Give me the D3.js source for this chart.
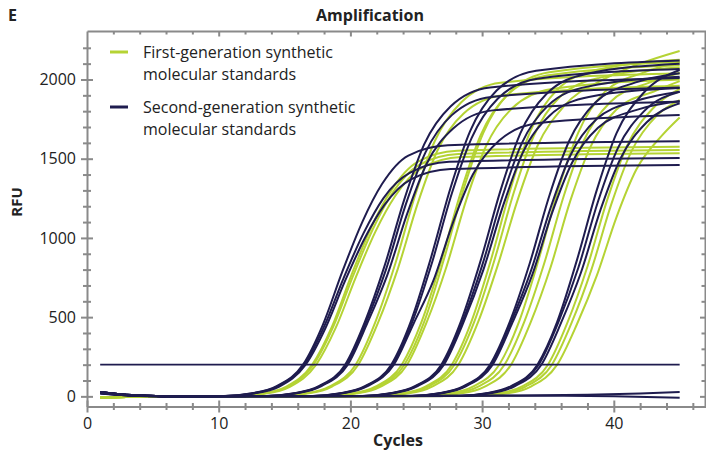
<!DOCTYPE html>
<html>
<head>
<meta charset="utf-8">
<script src="https://cdn.jsdelivr.net/npm/d3@7"></script>
<style>
  body { margin: 0; background: #fff; }
  svg { display: block; font-family: "Open Sans", "Noto Sans", sans-serif; }
</style>
</head>
<body>
<svg id="chart" width="706" height="451"></svg>
<script>
// ============================================
// Data (cycle, RFU) knots
// ============================================

const cycleTicks = [0, 10, 20, 30, 40];
const cycleMinor = [2, 4, 6, 8, 12, 14, 16, 18, 22, 24, 26, 28, 32, 34, 36, 38, 42, 44, 46];
const rfuTicks = [0, 500, 1000, 1500, 2000];
const rfuMinor = [100, 200, 300, 400, 600, 700, 800, 900, 1100, 1200, 1300, 1400,
  1600, 1700, 1800, 1900, 2100, 2200];

const thresholdRfu = 200;
const thresholdCycles = [1, 45];

// dilution 1 (earliest, lower plateau)
const g1Second = [
  [[1,28],[3,10],[6,1],[10.4,3],[12.4,18],[14.4,65],[16.4,200],[17.9,450],[19.4,790],[20.9,1100],[22.4,1340],[24.4,1520],[27.4,1585],[45,1610]],
  [[1,25],[3,9],[6,1],[10.5,3],[12.5,18],[14.5,65],[16.5,200],[18,440],[19.5,750],[21,1030],[22.5,1250],[24.5,1410],[27.5,1480],[45,1505]],
  [[1,20],[3,7],[6,0],[10.6,3],[12.6,17],[14.6,62],[16.6,200],[18.1,430],[19.6,730],[21.1,1000],[22.6,1210],[24.6,1370],[27.6,1435],[45,1460]]
];
const g1First = [
  [[1,-8],[3,-4],[6,0],[11.1,2],[13.1,15],[15.1,60],[17.1,200],[18.6,440],[20.1,770],[21.6,1070],[23.1,1300],[25.1,1480],[28.1,1550],[45,1575]],
  [[1,-6],[3,-3],[6,0],[11.2,2],[13.2,15],[15.2,60],[17.2,200],[18.7,440],[20.2,760],[21.7,1055],[23.2,1285],[25.2,1460],[28.2,1530],[45,1555]],
  [[1,-9],[3,-4],[6,0],[11.4,2],[13.4,15],[15.4,60],[17.4,200],[18.9,435],[20.4,750],[21.9,1040],[23.4,1265],[25.4,1440],[28.4,1510],[45,1535]]
];

// dilution 2
const g2Second = [
  [[1,28],[3,10],[6,1],[13.6,3],[15.6,18],[17.6,65],[19.6,200],[21.1,470],[22.6,825],[24.1,1245],[25.6,1590],[27.6,1830],[30.6,1950],[45,2010]],
  [[1,24],[3,8],[6,1],[13.7,3],[15.7,18],[17.7,65],[19.7,200],[21.2,470],[22.7,800],[24.2,1210],[25.7,1540],[27.7,1775],[30.7,1890],[45,1950]],
  [[1,18],[3,6],[6,0],[13.8,3],[15.8,18],[17.8,65],[19.8,200],[21.3,465],[22.8,765],[24.3,1150],[25.8,1470],[27.8,1690],[30.8,1805],[45,1860]]
];
const g2First = [
  [[1,-8],[3,-4],[6,0],[14.4,2],[16.4,16],[18.4,62],[20.4,200],[21.9,470],[23.4,835],[24.9,1265],[26.4,1610],[28.4,1855],[31.4,1980],[45,2040]],
  [[1,-5],[3,-2],[6,0],[14.6,2],[16.6,16],[18.6,62],[20.6,200],[22.1,465],[23.6,805],[25.1,1215],[26.6,1550],[28.6,1785],[31.6,1900],[45,1960]]
];

// dilution 3
const g3Second = [
  [[1,28],[3,10],[6,1],[17.1,3],[19.1,18],[21.1,65],[23.1,200],[24.6,475],[26.1,870],[27.6,1315],[29.1,1675],[31.1,1930],[34.1,2055],[45,2120]],
  [[1,22],[3,8],[6,1],[17.2,3],[19.2,18],[21.2,65],[23.2,200],[24.7,470],[26.2,845],[27.7,1280],[29.2,1630],[31.2,1880],[34.2,2005],[45,2066]],
  [[1,26],[3,9],[6,1],[17.3,3],[19.3,18],[21.3,65],[23.3,200],[24.8,460],[26.3,730],[27.8,1100],[29.3,1400],[31.3,1615],[34.3,1725],[45,1776]]
];
const g3First = [
  [[1,-8],[3,-4],[6,0],[17.9,2],[19.9,16],[21.9,62],[23.9,200],[25.4,470],[26.9,855],[28.4,1295],[29.9,1650],[31.9,1900],[34.9,2025],[45,2090]],
  [[1,-6],[3,-3],[6,0],[18.1,2],[20.1,16],[22.1,62],[24.1,200],[25.6,470],[27.1,865],[28.6,1310],[30.1,1665],[32.1,1920],[35.1,2045],[45,2110]],
  [[1,-9],[3,-4],[6,0],[18.3,2],[20.3,16],[22.3,62],[24.3,200],[25.8,470],[27.3,820],[28.8,1240],[30.3,1580],[32.3,1820],[35.3,1940],[45,2000]]
];

// dilution 4
const g4Second = [
  [[1,28],[3,10],[6,1],[20.9,3],[22.9,18],[24.9,65],[26.9,200],[28.4,475],[29.9,860],[31.4,1300],[32.9,1660],[34.9,1910],[37.9,2035],[45,2100]],
  [[1,20],[3,7],[6,0],[21,3],[23,18],[25,65],[27,200],[28.5,470],[30,825],[31.5,1250],[33,1595],[35,1835],[38,1955],[45,2017]],
  [[1,27],[3,9],[6,1],[21.1,3],[23.1,18],[25.1,65],[27.1,200],[28.6,470],[30.1,800],[31.6,1205],[33.1,1540],[35.1,1770],[38.1,1890],[45,1946]]
];
const g4First = [
  [[1,-7],[3,-3],[6,0],[21.7,2],[23.7,16],[25.7,62],[27.7,200],[29.2,475],[30.7,870],[32.2,1320],[33.7,1680],[35.7,1935],[38.7,2060],[45,2125]],
  [[1,-8],[3,-4],[6,0],[21.9,2],[23.9,16],[25.9,62],[27.9,200],[29.4,470],[30.9,850],[32.4,1285],[33.9,1640],[35.9,1890],[38.9,2010],[45,2075]],
  [[1,-6],[3,-3],[6,0],[22.2,2],[24.2,16],[26.2,62],[28.2,200],[29.7,470],[31.2,830],[32.7,1240],[34.2,1580],[36.2,1830],[39.2,2000],[42,2100],[45,2180]]
];

// dilution 5
const g5Second = [
  [[1,28],[3,10],[6,1],[24.6,3],[26.6,18],[28.6,65],[30.6,200],[32.1,470],[33.6,835],[35.1,1265],[36.6,1610],[38.6,1855],[41.6,1980],[45,2040]],
  [[1,23],[3,8],[6,1],[24.7,3],[26.7,18],[28.7,65],[30.7,200],[32.2,470],[33.7,790],[35.2,1190],[36.7,1520],[38.7,1750],[41.7,1865],[45,1923]],
  [[1,26],[3,9],[6,1],[24.8,3],[26.8,18],[28.8,65],[30.8,200],[32.3,465],[33.8,765],[35.3,1155],[36.8,1470],[38.8,1695],[41.8,1810],[45,1864]]
];
const g5First = [
  [[1,-8],[3,-4],[6,0],[25.3,2],[27.3,16],[29.3,62],[31.3,200],[32.8,470],[34.3,865],[35.8,1310],[37.3,1665],[39.3,1920],[42.3,2045],[45,2110]],
  [[1,-7],[3,-3],[6,0],[25.7,2],[27.7,16],[29.7,62],[31.7,200],[33.2,470],[34.7,835],[36.2,1265],[37.7,1610],[39.7,1855],[42.7,1980],[45,2040]],
  [[1,-9],[3,-4],[6,0],[26.2,2],[28.2,16],[30.2,62],[32.2,200],[33.7,470],[35.2,815],[36.7,1235],[38.2,1570],[40.2,1810],[43.2,1930],[45,1990]]
];

// dilution 6 (latest, still rising at cycle 45)
const g6Second = [
  [[1,28],[3,10],[6,1],[28.2,3],[30.2,18],[32.2,65],[34.2,200],[35.7,470],[37.2,860],[38.7,1300],[40.2,1660],[42.2,1910],[45,2060]],
  [[1,24],[3,8],[6,1],[28.3,3],[30.3,18],[32.3,65],[34.3,200],[35.8,470],[37.3,810],[38.8,1230],[40.3,1565],[42.3,1800],[45,1923]],
  [[1,21],[3,7],[6,0],[28.5,3],[30.5,18],[32.5,65],[34.5,200],[36,465],[37.5,780],[39,1180],[40.5,1500],[42.5,1730],[45,1850]]
];
const g6First = [
  [[1,-8],[3,-4],[6,0],[29,2],[31,16],[33,62],[35,200],[36.5,470],[38,820],[39.5,1240],[41,1580],[43,1820],[45,1940]],
  [[1,-6],[3,-3],[6,0],[29.3,2],[31.3,16],[33.3,62],[35.3,200],[36.8,465],[38.3,800],[39.8,1210],[41.3,1540],[43.3,1775],[45,1870]],
  [[1,-7],[3,-3],[6,0],[29.7,2],[31.7,16],[33.7,62],[35.7,200],[37.2,455],[38.7,760],[40.2,1130],[41.7,1430],[43.7,1650],[45,1760]]
];

// no-template controls
const ntcSecond = [
  [[1,25],[3,9],[6,1],[12,0],[20,2],[30,5],[38,10],[42,18],[45,28]],
  [[1,22],[3,8],[6,1],[15,0],[25,3],[35,4],[40,1],[45,-8]]
];

const legendItems = [
  { lines: ['First-generation synthetic', 'molecular standards'], gen: 'first' },
  { lines: ['Second-generation synthetic', 'molecular standards'], gen: 'second' }
];

// ============================================
// Setup
// ============================================

const colors = {
  first: '#b5d334',
  second: '#1f1c4f',
  axis: '#8a8a8a',
  text: '#222222'
};

const svg = d3.select('#chart');
const x = d3.scaleLinear().domain([0, 47]).range([87, 706]);
const y = d3.scaleLinear().domain([-64, 2306]).range([406.5, 31]);

const line = d3.line()
  .x(d => x(d[0]))
  .y(d => y(d[1]))
  .curve(d3.curveMonotoneX);

// ============================================
// Curves
// ============================================

const firstCurves = [].concat(g1First, g2First, g3First, g4First, g5First, g6First);
const secondCurves = [].concat(g1Second, g2Second, g3Second, g4Second, g5Second, g6Second, ntcSecond);

const plot = svg.append('g');

plot.selectAll('path.first')
  .data(firstCurves)
  .join('path')
  .attr('class', 'first')
  .attr('d', line)
  .attr('fill', 'none')
  .attr('stroke', colors.first)
  .attr('stroke-width', 2);

plot.selectAll('path.second')
  .data(secondCurves)
  .join('path')
  .attr('class', 'second')
  .attr('d', line)
  .attr('fill', 'none')
  .attr('stroke', colors.second)
  .attr('stroke-width', 2);

// threshold
plot.append('line')
  .attr('x1', x(thresholdCycles[0]))
  .attr('x2', x(thresholdCycles[1]))
  .attr('y1', y(thresholdRfu))
  .attr('y2', y(thresholdRfu))
  .attr('stroke', colors.second)
  .attr('stroke-width', 1.6);

// ============================================
// Axes
// ============================================

function styleAxis(g) {
  g.select('.domain').attr('stroke', colors.axis).attr('stroke-width', 2);
  g.selectAll('.tick line').attr('stroke', colors.axis).attr('stroke-width', 2);
  g.selectAll('.tick text')
    .attr('fill', colors.text)
    .style('font-size', '16px')
    .style('font-family', '"Open Sans", "Noto Sans", sans-serif');
}

const plain = d3.format('d');

// bottom
const axisBottomG = svg.append('g')
  .attr('transform', `translate(0,${y.range()[0]})`)
  .call(d3.axisBottom(x).tickValues(cycleTicks).tickFormat(plain).tickSize(6).tickPadding(5).tickSizeOuter(0));
axisBottomG.selectAll('.tick line').attr('y1', -6).attr('y2', 6);
styleAxis(axisBottomG);

const axisBottomMinor = svg.append('g')
  .attr('transform', `translate(0,${y.range()[0]})`)
  .call(d3.axisBottom(x).tickValues(cycleMinor).tickSize(3.5).tickFormat('').tickSizeOuter(0));
axisBottomMinor.selectAll('.tick line').attr('y1', -3.5).attr('y2', 3.5);
axisBottomMinor.select('.domain').remove();
styleAxis(axisBottomMinor);

// left
const axisLeftG = svg.append('g')
  .attr('transform', `translate(${x.range()[0]},0)`)
  .call(d3.axisLeft(y).tickValues(rfuTicks).tickFormat(plain).tickSize(6).tickPadding(5).tickSizeOuter(0));
axisLeftG.selectAll('.tick line').attr('x1', -6).attr('x2', 6);
styleAxis(axisLeftG);

const axisLeftMinor = svg.append('g')
  .attr('transform', `translate(${x.range()[0]},0)`)
  .call(d3.axisLeft(y).tickValues(rfuMinor).tickSize(4).tickFormat('').tickSizeOuter(0));
axisLeftMinor.selectAll('.tick line').attr('x1', -4).attr('x2', 4);
axisLeftMinor.select('.domain').remove();
styleAxis(axisLeftMinor);

// top (ticks inward)
const axisTopG = svg.append('g')
  .attr('transform', `translate(0,${y.range()[1]})`)
  .call(d3.axisTop(x).tickValues(cycleTicks.filter(d => d > 0)).tickSize(-5.5).tickFormat('').tickSizeOuter(0));
styleAxis(axisTopG);
const axisTopMinor = svg.append('g')
  .attr('transform', `translate(0,${y.range()[1]})`)
  .call(d3.axisTop(x).tickValues(cycleMinor).tickSize(-3.5).tickFormat('').tickSizeOuter(0));
axisTopMinor.select('.domain').remove();
styleAxis(axisTopMinor);

// right (ticks inward)
const axisRightG = svg.append('g')
  .attr('transform', `translate(${x.range()[1] - 1},0)`)
  .call(d3.axisRight(y).tickValues(rfuTicks).tickSize(-5).tickFormat('').tickSizeOuter(0));
styleAxis(axisRightG);
const axisRightMinor = svg.append('g')
  .attr('transform', `translate(${x.range()[1] - 1},0)`)
  .call(d3.axisRight(y).tickValues(rfuMinor).tickSize(-3.5).tickFormat('').tickSizeOuter(0));
axisRightMinor.select('.domain').remove();
styleAxis(axisRightMinor);

// ============================================
// Titles
// ============================================

svg.append('text')
  .attr('x', 8).attr('y', 21)
  .attr('fill', colors.text)
  .style('font-size', '16px').style('font-weight', 'bold')
  .text('E');

svg.append('text')
  .attr('x', 370).attr('y', 21)
  .attr('text-anchor', 'middle')
  .attr('fill', colors.text)
  .style('font-size', '16px').style('font-weight', 'bold')
  .text('Amplification');

svg.append('text')
  .attr('transform', 'translate(22,202) rotate(-90)')
  .attr('text-anchor', 'middle')
  .attr('fill', colors.text)
  .style('font-size', '15px').style('font-weight', 'bold')
  .text('RFU');

svg.append('text')
  .attr('x', 398).attr('y', 446)
  .attr('text-anchor', 'middle')
  .attr('fill', colors.text)
  .style('font-size', '16px').style('font-weight', 'bold')
  .text('Cycles');

// ============================================
// Legend
// ============================================

const legend = svg.append('g').attr('transform', 'translate(110,52)');
const item = legend.selectAll('g')
  .data(legendItems)
  .join('g')
  .attr('transform', (d, i) => `translate(0,${i * 55})`);

item.append('line')
  .attr('x1', 0).attr('x2', 18)
  .attr('stroke', d => colors[d.gen])
  .attr('stroke-width', 3);

item.append('text')
  .attr('x', 33).attr('y', 6)
  .attr('fill', colors.text)
  .style('font-size', '16px')
  .selectAll('tspan')
  .data(d => d.lines)
  .join('tspan')
  .attr('x', 33)
  .attr('dy', (d, i) => i === 0 ? 0 : 22)
  .text(d => d);
</script>
</body>
</html>
